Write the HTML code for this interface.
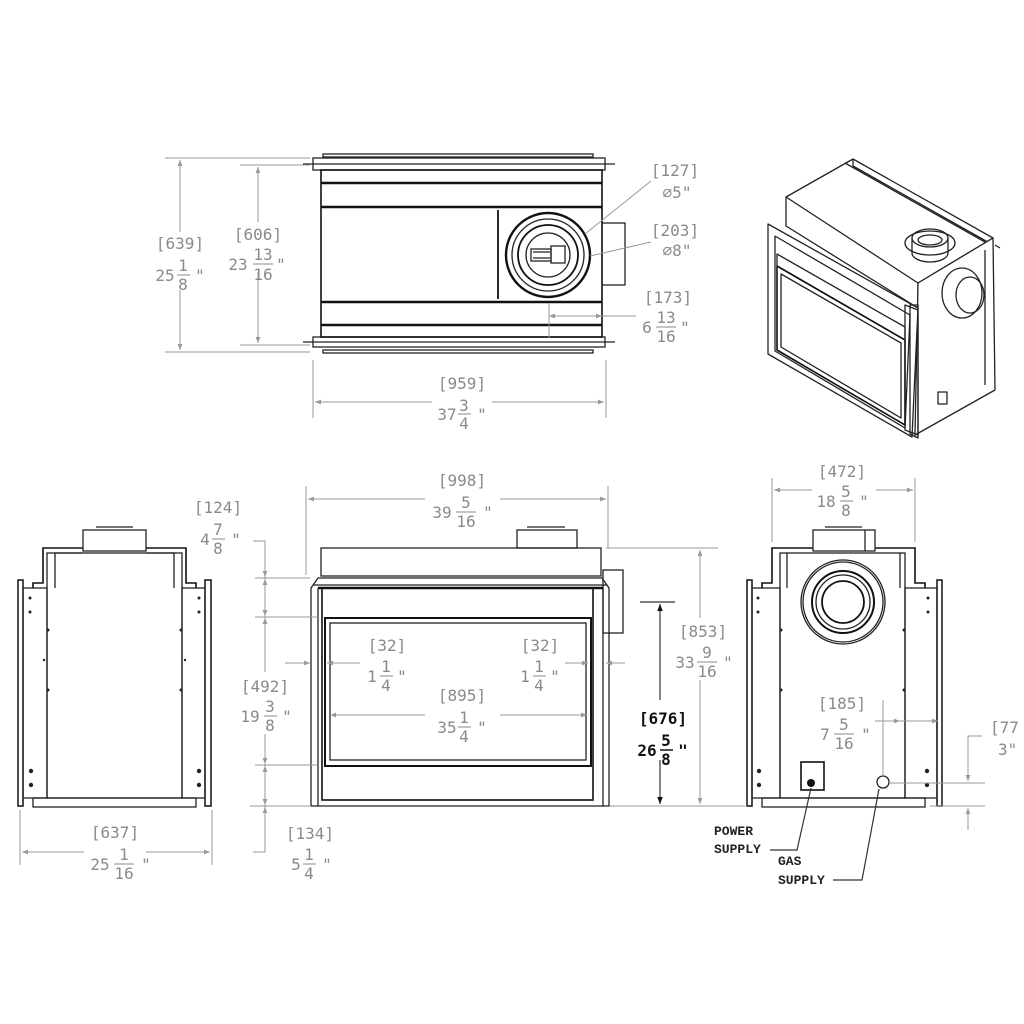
<!DOCTYPE html>
<html><head><meta charset="utf-8"><style>
html,body{margin:0;padding:0;background:#fff}
svg{display:block}
.d{font-family:"DejaVu Sans Mono","Liberation Mono",monospace;font-size:16px;fill:#8a8a8a;text-anchor:middle}
.k{fill:#111;font-weight:bold}
.L{stroke:#222;fill:none;stroke-width:1.3}
.T{stroke:#111;fill:none;stroke-width:2.4}
.g{stroke:#999;fill:none;stroke-width:1}
.gk{stroke:#333;fill:none;stroke-width:1.2}
.lab{font-family:"Liberation Mono",monospace;font-weight:bold;font-size:13px;fill:#222}
</style></head><body>
<svg width="1024" height="1024" viewBox="0 0 1024 1024" xmlns="http://www.w3.org/2000/svg">
<defs>
<marker id="a" viewBox="0 0 10 10" refX="10" refY="5" markerWidth="12" markerHeight="6" orient="auto-start-reverse" markerUnits="userSpaceOnUse"><path d="M0,1 L10,5 L0,9z" fill="#999"/></marker>
<marker id="ak" viewBox="0 0 10 10" refX="10" refY="5" markerWidth="12" markerHeight="7" orient="auto-start-reverse" markerUnits="userSpaceOnUse"><path d="M0,1 L10,5 L0,9z" fill="#111"/></marker>
</defs>

<g>
<rect x="323" y="154" width="270" height="3" class="L"/>
<rect x="323" y="350" width="270" height="3" class="L"/>
<rect x="313" y="158" width="292" height="12" class="L"/>
<rect x="313" y="337" width="292" height="10" class="L"/>
<line x1="303" y1="164" x2="615" y2="164" class="L"/>
<line x1="303" y1="342" x2="615" y2="342" class="L"/>
<rect x="321" y="170" width="281" height="167" class="T" style="stroke-width:1.6"/>
<line x1="321" y1="183" x2="602" y2="183" class="T"/>
<line x1="321" y1="207" x2="602" y2="207" class="T"/>
<line x1="321" y1="302" x2="602" y2="302" class="T"/>
<line x1="321" y1="325" x2="602" y2="325" class="T"/>
<line x1="498" y1="210" x2="498" y2="299" class="T" style="stroke-width:1.8"/>
<rect x="602" y="223" width="23" height="62" class="L"/>
<circle cx="548" cy="255" r="42" class="T"/>
<circle cx="548" cy="255" r="36" class="L"/>
<circle cx="548" cy="255" r="30" class="T" style="stroke-width:1.8"/>
<circle cx="548" cy="255" r="22" class="L"/>
<rect x="551" y="246" width="14" height="17" class="L"/>
<rect x="531" y="249" width="20" height="12" class="L"/>
<line x1="533" y1="252" x2="550" y2="252" class="L"/><line x1="533" y1="258" x2="550" y2="258" class="L"/>
</g>
<line x1="165" y1="158" x2="310" y2="158" class="g"/>
<line x1="165" y1="352" x2="310" y2="352" class="g"/>
<line x1="180" y1="160" x2="180" y2="350" class="g" marker-start="url(#a)" marker-end="url(#a)"/>
<line x1="240" y1="165" x2="310" y2="165" class="g"/>
<line x1="240" y1="345" x2="310" y2="345" class="g"/>
<line x1="258" y1="167" x2="258" y2="343" class="g" marker-start="url(#a)" marker-end="url(#a)"/>
<rect x="150" y="232" width="60" height="58" fill="#fff"/>
<rect x="225" y="222" width="66" height="50" fill="#fff"/>
<text class="d" x="180" y="249">[639]</text>
<text class="d" x="165" y="281">25</text><text class="d" x="183" y="271">1</text><line x1="177" y1="275" x2="190" y2="275" stroke="#8a8a8a"/><text class="d" x="183" y="290">8</text><text class="d" x="200" y="281">"</text>
<text class="d" x="258" y="240">[606]</text>
<text class="d" x="238" y="270">23</text><text class="d" x="263" y="260">13</text><line x1="253" y1="264" x2="273" y2="264" stroke="#8a8a8a"/><text class="d" x="263" y="280">16</text><text class="d" x="281" y="270">"</text>

<line x1="313" y1="360" x2="313" y2="418" class="g"/>
<line x1="606" y1="360" x2="606" y2="418" class="g"/>
<line x1="315" y1="402" x2="604" y2="402" class="g" marker-start="url(#a)" marker-end="url(#a)"/>
<rect x="432" y="372" width="60" height="58" fill="#fff"/>
<text class="d" x="462" y="389">[959]</text>
<text class="d" x="447" y="420">37</text><text class="d" x="464" y="411">3</text><line x1="458" y1="414" x2="471" y2="414" stroke="#8a8a8a"/><text class="d" x="464" y="429">4</text><text class="d" x="482" y="420">"</text>

<line x1="651" y1="181" x2="585" y2="234" class="g"/>
<text class="d" x="675" y="176">[127]</text>
<text class="d" x="677" y="198">⌀5"</text>
<line x1="651" y1="242" x2="590" y2="256" class="g"/>
<text class="d" x="675" y="236">[203]</text>
<text class="d" x="677" y="256">⌀8"</text>
<line x1="549" y1="303" x2="549" y2="338" class="g"/>
<line x1="549" y1="316" x2="636" y2="316" class="g" marker-start="url(#a)"/>
<line x1="587" y1="316" x2="602" y2="316" class="g" marker-end="url(#a)"/>
<text class="d" x="668" y="303">[173]</text>
<text class="d" x="647" y="333">6</text><text class="d" x="666" y="323">13</text><line x1="656" y1="327" x2="676" y2="327" stroke="#8a8a8a"/><text class="d" x="666" y="342">16</text><text class="d" x="685" y="333">"</text>

<g class="L" stroke-linejoin="round">
<polygon points="786,197 853,159 993,238 918,283" fill="#fff"/>
<polyline points="786,197 786,226 918,308"/>
<polyline points="918,283 918,308"/>
<polyline points="853,159 853,166 993,245"/>
<polyline points="845,163 985,242" />
<polygon points="918,283 993,238 995,390 915,435" fill="#fff"/>
<polygon points="768,224 918,308 912,437 768,354" fill="#fff"/>
<polygon points="775,236 910,315 905,428 775,351" />
<polygon points="777,254 905,327 905,340 777,266"/>
<polygon points="777,266 905,340 905,425 777,350" class="T" style="stroke-width:1.6"/>
<polygon points="781,274 901,343 901,418 781,347"/>
<polygon points="905,305 918,310 918,435 905,430"/>
<polygon points="910,305 918,305 918,438 910,434"/>
<ellipse cx="930" cy="243" rx="25" ry="12"/>
<ellipse cx="930" cy="238" rx="18" ry="9"/>
<path d="M912,238 L912,253 A18,9 0 0 0 948,253 L948,238"/>
<ellipse cx="930" cy="240" rx="12" ry="5"/>
<ellipse cx="962" cy="293" rx="20" ry="25" />
<ellipse cx="970" cy="295" rx="14" ry="18"/>
<line x1="985" y1="250" x2="985" y2="385"/>
<line x1="995" y1="245" x2="1000" y2="248"/>
<rect x="938" y="392" width="9" height="12" />
</g>

<g>
<rect x="18" y="580" width="5" height="226" class="T" style="stroke-width:1.5"/>
<rect x="205" y="580" width="6" height="226" class="T" style="stroke-width:1.5"/>
<rect x="23" y="588" width="24" height="210" class="L"/>
<rect x="182" y="588" width="23" height="210" class="L"/>
<rect x="47" y="553" width="135" height="245" class="L"/>
<polyline points="33,588 33,583 43,583 43,548 83,548" class="T" style="stroke-width:1.6"/>
<polyline points="196,588 196,583 186,583 186,548 146,548" class="T" style="stroke-width:1.6"/>
<polyline points="55,588 55,553 83,553" class="L"/>
<polyline points="174,588 174,553 146,553" class="L"/>
<rect x="83" y="530" width="63" height="21" class="L"/>
<line x1="96" y1="527" x2="133" y2="527" class="L"/>
<rect x="33" y="798" width="163" height="9" class="L"/>
<g fill="#222"><circle cx="30" cy="598" r="1.5"/><circle cx="30" cy="612" r="1.5"/><circle cx="31" cy="771" r="2.2"/><circle cx="31" cy="785" r="2.2"/><circle cx="199" cy="598" r="1.5"/><circle cx="199" cy="612" r="1.5"/><circle cx="199" cy="771" r="2.2"/><circle cx="199" cy="785" r="2.2"/><circle cx="48" cy="630" r="1.5"/><circle cx="48" cy="690" r="1.5"/><circle cx="181" cy="630" r="1.5"/><circle cx="181" cy="690" r="1.5"/><circle cx="44" cy="660" r="1.2"/><circle cx="185" cy="660" r="1.2"/></g>
</g>
<line x1="20" y1="810" x2="20" y2="865" class="g"/>
<line x1="212" y1="810" x2="212" y2="865" class="g"/>
<line x1="22" y1="852" x2="210" y2="852" class="g" marker-start="url(#a)" marker-end="url(#a)"/>
<rect x="84" y="822" width="62" height="60" fill="#fff"/>
<text class="d" x="115" y="838">[637]</text>
<text class="d" x="100" y="870">25</text><text class="d" x="124" y="860">1</text><line x1="114" y1="864" x2="134" y2="864" stroke="#8a8a8a"/><text class="d" x="124" y="879">16</text><text class="d" x="146" y="870">"</text>

<g>
<rect x="321" y="548" width="280" height="28" class="L"/>
<rect x="517" y="530" width="60" height="18" class="L"/>
<line x1="527" y1="527" x2="565" y2="527" class="L"/>
<rect x="603" y="570" width="20" height="63" class="L"/>
<path d="M311,588 L318,578 L602,578 L609,588 L609,806 L311,806 Z" class="L"/>
<line x1="313" y1="585" x2="607" y2="585" class="L"/>
<line x1="318" y1="588" x2="603" y2="588" class="T"/>
<rect x="322" y="588" width="271" height="212" class="T" style="stroke-width:1.6"/>
<line x1="318" y1="588" x2="318" y2="806" class="L"/>
<line x1="603" y1="588" x2="603" y2="806" class="L"/>
<rect x="325" y="618" width="266" height="148" class="T" style="stroke-width:2"/>
<rect x="330" y="623" width="256" height="137" class="L"/>
<line x1="322" y1="800" x2="593" y2="800" class="L"/>
</g>
<line x1="306" y1="486" x2="306" y2="575" class="g"/>
<line x1="608" y1="486" x2="608" y2="548" class="g"/>
<line x1="308" y1="499" x2="606" y2="499" class="g" marker-start="url(#a)" marker-end="url(#a)"/>
<rect x="425" y="470" width="75" height="60" fill="#fff"/>
<text class="d" x="462" y="486">[998]</text>
<text class="d" x="442" y="518">39</text><text class="d" x="466" y="508">5</text><line x1="456" y1="512" x2="476" y2="512" stroke="#8a8a8a"/><text class="d" x="466" y="527">16</text><text class="d" x="488" y="518">"</text>

<text class="d" x="218" y="513">[124]</text>
<text class="d" x="205" y="545">4</text><text class="d" x="218" y="535">7</text><line x1="212" y1="539" x2="225" y2="539" stroke="#8a8a8a"/><text class="d" x="218" y="554">8</text><text class="d" x="236" y="545">"</text>
<polyline points="253,541 265,541 265,852 253,852" class="g"/>
<line x1="255" y1="578" x2="310" y2="578" class="g"/>
<line x1="255" y1="617" x2="318" y2="617" class="g"/>
<line x1="255" y1="765" x2="318" y2="765" class="g"/>
<line x1="250" y1="806" x2="311" y2="806" class="g"/>
<line x1="265" y1="560" x2="265" y2="577" class="g" marker-end="url(#a)"/>
<line x1="265" y1="600" x2="265" y2="579" class="g" marker-end="url(#a)"/>
<line x1="265" y1="600" x2="265" y2="616" class="g" marker-end="url(#a)"/>
<line x1="265" y1="640" x2="265" y2="618" class="g" marker-end="url(#a)"/>
<line x1="265" y1="745" x2="265" y2="764" class="g" marker-end="url(#a)"/>
<line x1="265" y1="785" x2="265" y2="766" class="g" marker-end="url(#a)"/>
<line x1="265" y1="790" x2="265" y2="805" class="g" marker-end="url(#a)"/>
<line x1="265" y1="825" x2="265" y2="807" class="g" marker-end="url(#a)"/>
<rect x="238" y="672" width="56" height="62" fill="#fff"/>
<text class="d" x="265" y="692">[492]</text>
<text class="d" x="250" y="722">19</text><text class="d" x="270" y="712">3</text><line x1="264" y1="716" x2="277" y2="716" stroke="#8a8a8a"/><text class="d" x="270" y="731">8</text><text class="d" x="287" y="722">"</text>
<text class="d" x="310" y="839">[134]</text>
<text class="d" x="296" y="870">5</text><text class="d" x="309" y="860">1</text><line x1="303" y1="864" x2="316" y2="864" stroke="#8a8a8a"/><text class="d" x="309" y="879">4</text><text class="d" x="327" y="870">"</text>

<line x1="285" y1="663" x2="310" y2="663" class="g" marker-end="url(#a)"/>
<line x1="360" y1="663" x2="327" y2="663" class="g" marker-end="url(#a)"/>
<line x1="565" y1="663" x2="588" y2="663" class="g" marker-end="url(#a)"/>
<line x1="625" y1="663" x2="606" y2="663" class="g" marker-end="url(#a)"/>
<text class="d" x="387" y="651">[32]</text>
<text class="d" x="372" y="682">1</text><text class="d" x="386" y="672">1</text><line x1="380" y1="676" x2="393" y2="676" stroke="#8a8a8a"/><text class="d" x="386" y="691">4</text><text class="d" x="402" y="682">"</text>
<text class="d" x="540" y="651">[32]</text>
<text class="d" x="525" y="682">1</text><text class="d" x="539" y="672">1</text><line x1="533" y1="676" x2="546" y2="676" stroke="#8a8a8a"/><text class="d" x="539" y="691">4</text><text class="d" x="555" y="682">"</text>

<line x1="330" y1="715" x2="425" y2="715" class="g" marker-start="url(#a)"/>
<line x1="500" y1="715" x2="587" y2="715" class="g" marker-end="url(#a)"/>
<text class="d" x="462" y="701">[895]</text>
<text class="d" x="447" y="733">35</text><text class="d" x="464" y="723">1</text><line x1="458" y1="727" x2="471" y2="727" stroke="#8a8a8a"/><text class="d" x="464" y="742">4</text><text class="d" x="482" y="733">"</text>

<line x1="640" y1="602" x2="675" y2="602" class="gk"/>
<line x1="610" y1="806" x2="745" y2="806" class="g"/>
<line x1="660" y1="604" x2="660" y2="700" class="gk" marker-start="url(#ak)"/>
<line x1="660" y1="760" x2="660" y2="804" class="gk" marker-end="url(#ak)"/>
<text class="d k" x="663" y="724">[676]</text>
<text class="d k" x="647" y="756">26</text><text class="d k" x="666" y="746">5</text><line x1="660" y1="750" x2="673" y2="750" stroke="#111" stroke-width="1.5"/><text class="d k" x="666" y="765">8</text><text class="d k" x="683" y="756">"</text>

<line x1="606" y1="548" x2="718" y2="548" class="g"/>
<line x1="700" y1="550" x2="700" y2="618" class="g" marker-start="url(#a)"/>
<line x1="700" y1="680" x2="700" y2="804" class="g" marker-end="url(#a)"/>
<text class="d" x="703" y="637">[853]</text>
<text class="d" x="685" y="668">33</text><text class="d" x="707" y="658">9</text><line x1="697" y1="662" x2="717" y2="662" stroke="#8a8a8a"/><text class="d" x="707" y="677">16</text><text class="d" x="728" y="668">"</text>

<g>
<rect x="747" y="580" width="5" height="226" class="T" style="stroke-width:1.5"/>
<rect x="937" y="580" width="5" height="226" class="T" style="stroke-width:1.5"/>
<rect x="752" y="588" width="28" height="210" class="L"/>
<rect x="905" y="588" width="32" height="210" class="L"/>
<rect x="780" y="553" width="125" height="245" class="L"/>
<polyline points="762,588 762,583 772,583 772,548 813,548" class="T" style="stroke-width:1.6"/>
<polyline points="925,588 925,583 915,583 915,548 875,548" class="T" style="stroke-width:1.6"/>
<polyline points="787,588 787,553" class="L"/>
<polyline points="900,588 900,553" class="L"/>
<rect x="813" y="530" width="62" height="21" class="L"/>
<line x1="865" y1="530" x2="865" y2="551" class="L"/>
<line x1="825" y1="527" x2="862" y2="527" class="L"/>
<rect x="762" y="798" width="163" height="9" class="L"/>
<circle cx="843" cy="602" r="42" class="L"/>
<circle cx="843" cy="602" r="40" class="L"/>
<circle cx="843" cy="602" r="31" class="T" style="stroke-width:2"/>
<circle cx="843" cy="602" r="27" class="L"/>
<circle cx="843" cy="602" r="21" class="T" style="stroke-width:1.8"/>
<rect x="801" y="762" width="23" height="28" class="T" style="stroke-width:1.6"/>
<circle cx="811" cy="783" r="4" fill="#111"/>
<circle cx="883" cy="782" r="6" class="L"/>
<g fill="#222"><circle cx="758" cy="598" r="1.5"/><circle cx="758" cy="612" r="1.5"/><circle cx="759" cy="771" r="2.2"/><circle cx="759" cy="785" r="2.2"/><circle cx="928" cy="598" r="1.5"/><circle cx="928" cy="612" r="1.5"/><circle cx="927" cy="771" r="2.2"/><circle cx="927" cy="785" r="2.2"/><circle cx="781" cy="630" r="1.5"/><circle cx="781" cy="690" r="1.5"/><circle cx="904" cy="630" r="1.5"/><circle cx="904" cy="690" r="1.5"/></g>
</g>
<line x1="772" y1="478" x2="772" y2="542" class="g"/>
<line x1="915" y1="478" x2="915" y2="542" class="g"/>
<line x1="774" y1="490" x2="913" y2="490" class="g" marker-start="url(#a)" marker-end="url(#a)"/>
<rect x="812" y="462" width="64" height="58" fill="#fff"/>
<text class="d" x="842" y="477">[472]</text>
<text class="d" x="826" y="507">18</text><text class="d" x="846" y="497">5</text><line x1="840" y1="501" x2="853" y2="501" stroke="#8a8a8a"/><text class="d" x="846" y="516">8</text><text class="d" x="864" y="507">"</text>

<line x1="883" y1="776" x2="883" y2="700" class="g"/>
<line x1="875" y1="721" x2="900" y2="721" class="g" marker-end="url(#a)"/>
<line x1="900" y1="721" x2="938" y2="721" class="g" marker-end="url(#a)"/>
<text class="d" x="842" y="709">[185]</text>
<text class="d" x="825" y="740">7</text><text class="d" x="844" y="730">5</text><line x1="834" y1="734" x2="854" y2="734" stroke="#8a8a8a"/><text class="d" x="844" y="749">16</text><text class="d" x="866" y="740">"</text>

<line x1="890" y1="783" x2="985" y2="783" class="g"/>
<line x1="930" y1="806" x2="985" y2="806" class="g"/>
<polyline points="982,736 968,736 968,781" class="g" marker-end="url(#a)"/>
<line x1="968" y1="830" x2="968" y2="808" class="g" marker-end="url(#a)"/>
<text class="d" x="990" y="733" style="text-anchor:start">[77</text>
<text class="d" x="998" y="755" style="text-anchor:start">3"</text>

<polyline points="811,788 797,850 770,850" class="gk"/>
<polyline points="879,789 862,880 833,880" class="gk"/>
<text class="lab" x="714" y="835">POWER</text>
<text class="lab" x="714" y="853">SUPPLY</text>
<text class="lab" x="778" y="865">GAS</text>
<text class="lab" x="778" y="884">SUPPLY</text>
</svg>
</body></html>
